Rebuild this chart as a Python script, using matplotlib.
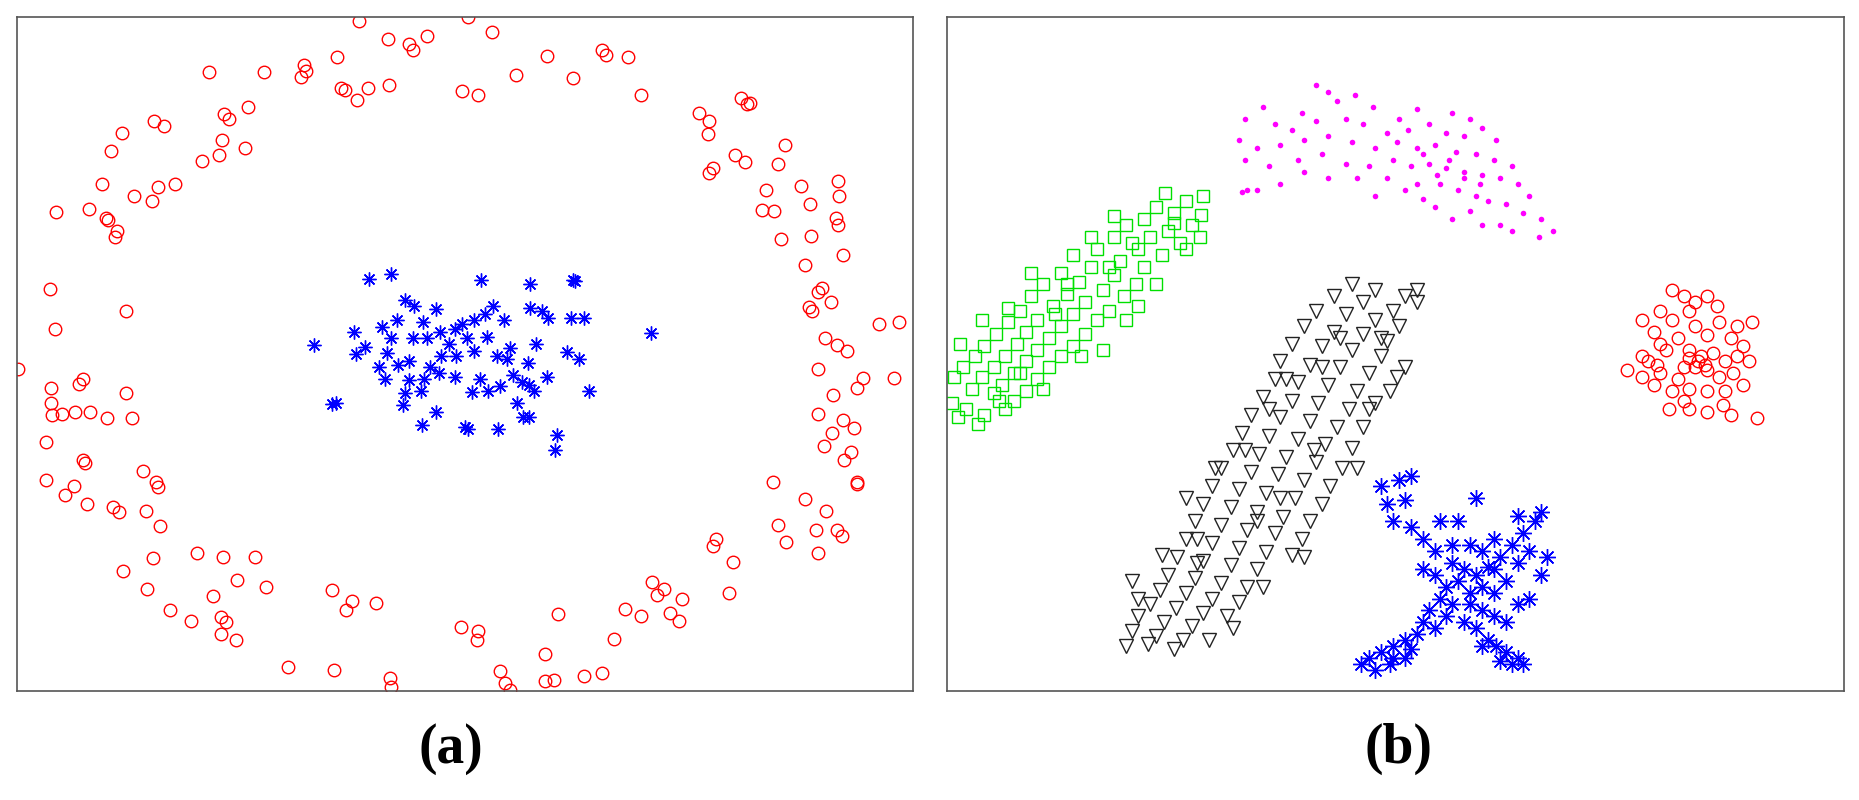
import numpy as np
import matplotlib.pyplot as plt

# panel (a): points read in pixel units of the reference
ring_a = [(303,18),(395,14),(415,27),(360,30),(327,33),(345,37),(348,42),(284,48),(256,55),(258,60),(223,61),(254,65),(176,61),(288,74),(291,76),(301,84),(310,74),(328,72),(390,77),(403,80),(435,63),(461,47),(483,66),(508,42),(530,48),(511,46),(541,80),(590,95),(598,102),(625,83),(630,88),(633,87),(189,96),(193,100),(209,90),(130,102),(138,106),(103,112),(187,118),(207,125),(185,131),(170,136),(94,127),(148,155),(133,158),(86,155),(113,165),(128,170),(75,176),(89,184),(91,186),(99,195),(97,200),(47,179),(597,113),(620,131),(628,137),(601,142),(598,146),(662,122),(656,138),(646,160),(643,177),(653,178),(676,157),(683,172),(707,153),(708,165),(705,184),(707,190),(659,202),(684,199),(711,215),(679,224),(690,246),(693,243),(682,259),(685,262),(42,244),(46,278),(106,262),(15,311),(43,327),(67,324),(70,320),(106,332),(43,340),(44,350),(52,349),(63,348),(76,348),(90,353),(111,353),(701,255),(741,273),(758,272),(696,285),(706,291),(714,296),(690,311),(754,319),(723,327),(728,319),(703,333),(690,349),(711,354),(720,361),(702,365),(39,373),(70,388),(72,391),(39,405),(62,410),(55,418),(73,425),(95,428),(100,432),(121,397),(132,407),(133,411),(123,431),(135,444),(695,376),(718,381),(712,388),(723,407),(723,408),(652,407),(656,443),(679,421),(697,431),(706,447),(710,452),(688,447),(663,457),(690,467),(604,455),(601,461),(618,474),(129,471),(166,467),(188,470),(215,470),(104,482),(200,489),(224,495),(180,503),(124,497),(143,515),(186,521),(191,525),(161,524),(186,535),(199,540),(280,498),(297,507),(292,515),(317,509),(389,529),(403,532),(402,540),(550,491),(560,497),(554,502),(575,505),(615,500),(527,514),(541,520),(565,517),(573,524),(518,539),(471,518),(460,552),(243,563),(282,565),(329,572),(330,580),(422,566),(426,576),(430,582),(460,575),(467,574),(493,570),(508,568)]

core_a = [(265,291),(311,235),(330,231),(483,236),(485,237),(406,236),(447,240),(342,253),(349,258),(368,261),(357,272),(335,270),(322,276),(299,280),(308,293),(300,299),(326,298),(348,285),(360,285),(371,280),(379,290),(384,278),(390,273),(400,270),(409,265),(416,258),(425,270),(447,260),(457,262),(462,268),(482,268),(493,268),(549,281),(411,284),(400,296),(385,300),(372,300),(363,310),(345,305),(336,308),(325,320),(345,321),(358,320),(370,315),(384,318),(405,320),(412,330),(398,331),(422,326),(433,316),(440,322),(446,325),(461,318),(445,306),(428,303),(430,294),(452,290),(478,297),(488,303),(497,330),(283,340),(280,341),(342,332),(355,330),(340,342),(368,348),(356,359),(392,360),(395,362),(420,362),(441,352),(446,352),(470,367),(468,380),(330,285),(320,310),(394,285),(419,300),(450,330),(436,340)]

# panel (b)
magenta_b = [(1110,72),(1120,78),(1143,80),(1065,90),(1098,95),(1128,85),(1158,90),(1180,100),(1195,92),(1225,95),(1240,100),(1050,100),(1075,105),(1090,110),(1110,102),(1135,100),(1150,105),(1170,112),(1188,110),(1205,105),(1220,112),(1235,115),(1250,108),(1262,118),(1045,118),(1060,125),(1080,122),(1100,118),(1120,115),(1140,120),(1160,125),(1178,120),(1195,125),(1210,122),(1228,128),(1245,130),(1260,135),(1275,140),(1050,135),(1070,140),(1095,135),(1115,130),(1135,138),(1155,140),(1175,135),(1190,140),(1205,138),(1220,142),(1235,145),(1250,148),(1265,150),(1280,155),(1290,165),(1060,160),(1080,155),(1048,162),(1120,150),(1145,150),(1170,150),(1195,155),(1215,155),(1230,160),(1245,165),(1255,170),(1270,172),(1285,180),(1300,185),(1310,195),(1298,200),(1250,190),(1225,185),(1200,168),(1185,160),(1240,178),(1265,190),(1275,195),(1052,160),(1100,145),(1160,165),(1210,175),(1235,150),(1248,155),(1222,135),(1200,130),(1212,148)]

green_b = [(983,163),(1000,170),(1013,181),(975,175),(990,180),(965,185),(1005,190),(985,195),(950,190),(970,200),(995,205),(940,200),(960,210),(980,215),(925,210),(945,220),(965,225),(905,215),(920,225),(940,232),(958,240),(895,230),(910,238),(930,245),(948,250),(880,240),(900,248),(915,255),(935,262),(870,250),(888,258),(905,265),(925,270),(860,262),(875,270),(895,275),(915,282),(850,272),(865,280),(885,285),(905,292),(840,282),(858,290),(875,295),(895,300),(830,292),(848,300),(865,305),(885,310),(822,300),(838,310),(855,315),(875,320),(812,310),(828,318),(845,325),(865,330),(805,318),(820,328),(838,332),(855,338),(803,340),(815,345),(830,350),(848,345),(808,352),(825,358),(860,315),(890,265),(912,300),(930,295),(950,270),(975,240),(1000,210),(1012,200),(880,328),(843,338),(900,240),(920,200),(870,230),(955,205),(940,182),(990,188),(1015,165),(960,258),(935,225),(850,260),(828,270),(810,290)]

black_b = [(1140,240),(1160,245),(1185,250),(1195,255),(1125,250),(1150,255),(1175,262),(1110,262),(1135,265),(1160,270),(1180,275),(1100,275),(1125,280),(1150,282),(1170,288),(1090,290),(1115,292),(1140,295),(1165,300),(1185,310),(1080,305),(1105,308),(1130,310),(1155,315),(1075,320),(1095,322),(1120,325),(1145,330),(1178,318),(1065,335),(1090,338),(1112,340),(1138,345),(1160,340),(1055,350),(1080,352),(1105,355),(1128,360),(1150,360),(1048,365),(1070,368),(1095,370),(1118,375),(1140,378),(1040,380),(1062,383),(1085,386),(1110,390),(1132,395),(1030,395),(1055,398),(1078,400),(1100,405),(1122,410),(1145,395),(1022,410),(1045,413),(1068,416),(1092,420),(1115,425),(1015,425),(1038,428),(1060,432),(1082,436),(1105,440),(1008,440),(1030,443),(1052,447),(1075,450),(1098,455),(1000,455),(1022,458),(1045,462),(1068,466),(1090,468),(993,470),(1015,473),(1038,477),(1060,480),(985,485),(1008,488),(1030,492),(1052,495),(978,498),(1000,500),(1022,505),(1045,508),(970,510),(992,513),(1015,517),(1035,520),(960,520),(982,525),(1005,528),(955,532),(975,537),(998,540),(950,545),(968,543),(990,548),(1020,540),(955,490),(980,468),(1010,455),(1000,420),(1025,395),(1050,380),(1070,345),(1085,320),(1115,310),(1130,285),(1165,285),(1195,245),(1172,330),(1155,345),(1040,530),(960,505),(1065,495),(1100,470),(1080,420),(1060,440),(1108,380),(1010,475)]

blue_b = [(1165,410),(1180,405),(1190,402),(1170,425),(1185,422),(1175,440),(1190,445),(1200,455),(1210,465),(1215,440),(1225,475),(1235,480),(1245,485),(1255,478),(1265,470),(1275,460),(1285,450),(1295,440),(1300,432),(1280,435),(1290,465),(1305,470),(1300,485),(1270,490),(1260,500),(1250,495),(1240,500),(1230,490),(1220,495),(1215,505),(1225,510),(1240,510),(1250,515),(1260,520),(1235,525),(1220,520),(1205,515),(1200,525),(1195,535),(1185,540),(1175,545),(1165,550),(1155,555),(1148,560),(1160,565),(1172,560),(1185,555),(1190,548),(1210,530),(1245,530),(1255,540),(1262,545),(1270,550),(1280,555),(1275,560),(1285,560),(1265,558),(1250,545),(1270,525),(1280,510),(1230,440),(1240,460),(1250,465),(1260,480),(1280,475),(1200,480),(1210,485),(1225,460),(1175,555),(1260,455),(1245,420),(1290,505)]

red_b = [(1410,245),(1420,250),(1430,255),(1440,250),(1448,258),(1425,262),(1400,262),(1385,270),(1410,270),(1430,275),(1450,272),(1465,275),(1478,272),(1395,280),(1415,285),(1440,283),(1460,285),(1470,292),(1400,290),(1405,295),(1425,295),(1435,300),(1445,298),(1455,305),(1465,300),(1475,305),(1390,305),(1372,312),(1385,318),(1400,315),(1420,310),(1430,310),(1440,312),(1450,318),(1462,315),(1470,325),(1395,325),(1410,330),(1425,328),(1440,330),(1455,330),(1408,345),(1425,345),(1440,348),(1460,350),(1482,353),(1432,305),(1438,308),(1425,302),(1415,320),(1385,300),(1453,342),(1420,338),(1398,308)]

labels = ['(a)', '(b)']

W, H = 1568.0, 675.0
fig = plt.figure(figsize=(18.59, 8), dpi=100)
ax1 = fig.add_axes([14 / W, (H - 583) / H, 756 / W, 569 / H])
ax2 = fig.add_axes([799 / W, (H - 583) / H, 756 / W, 569 / H])

star = (8, 2, 0)


def pts(ax, data, **kw):
    a = np.array(data)
    ax.plot(a[:, 0], a[:, 1], linestyle='none', **kw)


pts(ax1, ring_a, marker='o', mfc='none', mec='red', ms=9, mew=1)
pts(ax1, core_a, marker=star, color='blue', ms=10, mew=1)
ax1.set_xlim(14, 770)
ax1.set_ylim(583, 14)

pts(ax2, magenta_b, marker='o', color='magenta', ms=4, mew=0)
pts(ax2, green_b, marker='s', mfc='none', mec='#00e000', ms=8, mew=1)
pts(ax2, black_b, marker='v', mfc='none', mec='#222222', ms=10, mew=1)
pts(ax2, blue_b, marker=star, color='blue', ms=12, mew=1)
pts(ax2, red_b, marker='o', mfc='none', mec='red', ms=9, mew=1)
ax2.set_xlim(799, 1555)
ax2.set_ylim(583, 14)

for ax in (ax1, ax2):
    ax.set_xticks([])
    ax.set_yticks([])
    for s in ax.spines.values():
        s.set_color('#555555')
        s.set_linewidth(1.2)

fig.text(380 / W, 1 - 632 / H, labels[0], ha='center', va='center', fontsize=40,
         family='Liberation Serif', fontweight='bold')
fig.text(1180 / W, 1 - 632 / H, labels[1], ha='center', va='center', fontsize=40,
         family='Liberation Serif', fontweight='bold')

fig.savefig('out.png', dpi=100)
